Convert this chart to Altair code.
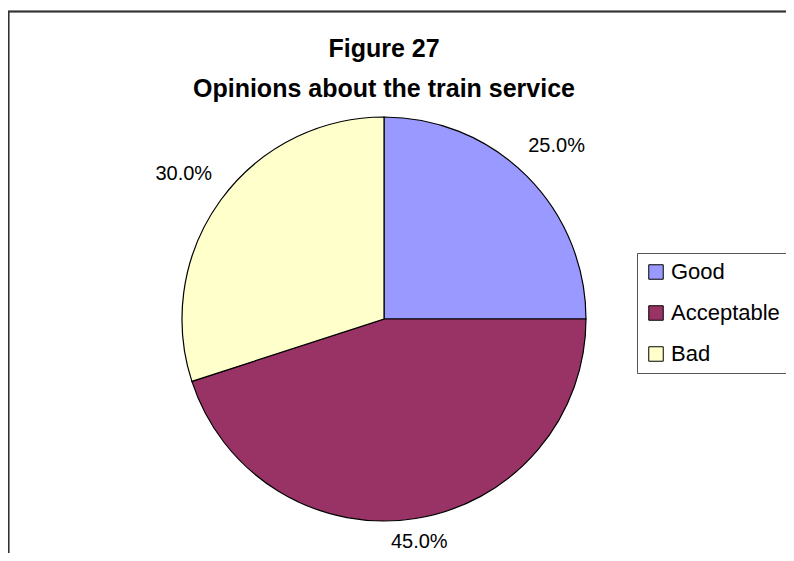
import altair as alt
import pandas as pd

categories = ["Good", "Acceptable", "Bad"]
values = [25.0, 45.0, 30.0]
colors = ["#9999FF", "#993366", "#FFFFCC"]
title_lines = ["Figure 27", "Opinions about the train service"]

df = pd.DataFrame({"category": categories, "value": values, "idx": list(range(len(categories)))})

W, H = 778, 545
CX, CY = 376, 311
FONT = "Liberation Sans"

base = alt.Chart(df).encode(
    theta=alt.Theta("value:Q", stack=True),
    order=alt.Order("idx:Q"),
)

arcs = base.mark_arc(outerRadius=202, stroke="black", strokeWidth=1.2).encode(
    x=alt.value(CX),
    y=alt.value(CY),
    color=alt.Color(
        "category:N",
        sort=categories,
        scale=alt.Scale(domain=categories, range=colors),
        legend=alt.Legend(
            title=None,
            orient="none",
            legendX=629,
            legendY=245,
            direction="vertical",
            symbolType="square",
            symbolSize=210,
            symbolStrokeColor="black",
            symbolStrokeWidth=1,
            labelFont=FONT,
            labelFontSize=22,
            labelColor="black",
            labelOffset=4,
            rowPadding=19,
            padding=8,
            strokeColor="#555555",
            fillColor="white",
            labelLimit=300,
        ),
    ),
)

# labels sit outside the pie at each slice's mid-angle; wider gap on the sides
labels = alt.Chart(df).transform_joinaggregate(
    total="sum(value)"
).transform_window(
    cum="sum(value)", sort=[alt.SortField("idx")]
).transform_calculate(
    label="format(datum.value / 100, '.1%')",
    mid="(datum.cum - datum.value / 2) / datum.total * 2 * PI",
).transform_calculate(
    lr="220 + 34 * abs(sin(datum.mid))"
).mark_text(
    font=FONT, fontSize=20, color="black", baseline="middle", align="center"
).encode(
    theta=alt.Theta("mid:Q", scale=None, stack=False),
    radius=alt.Radius("lr:Q", scale=None),
    x=alt.value(CX),
    y=alt.value(CY),
    text="label:N",
)

tdf = pd.DataFrame({"t": title_lines, "i": [0, 1]})
title = alt.Chart(tdf).mark_text(
    font=FONT, fontSize=25, fontWeight="bold", color="black", baseline="middle", align="center"
).encode(
    x=alt.value(CX),
    y=alt.Y("i:Q", scale=alt.Scale(domain=[0, 1], range=[41, 81]), axis=None),
    text="t:N",
)

frame_top = alt.Chart(df).mark_rule(color="#333333", strokeWidth=1.5).encode(
    x=alt.value(0), x2=alt.value(W), y=alt.value(3.5)
)
frame_left = alt.Chart(df).mark_rule(color="#333333", strokeWidth=1.5).encode(
    x=alt.value(0.5), y=alt.value(3.5), y2=alt.value(H)
)

chart = alt.layer(frame_top, frame_left, arcs, labels, title).resolve_scale(
    y="independent", theta="independent", radius="independent"
).properties(
    width=W, height=H, autosize=alt.AutoSizeParams(type="none"), padding=0,
).configure_view(stroke=None)

chart.save("out.html", embed_options={"renderer": "svg", "actions": False})
